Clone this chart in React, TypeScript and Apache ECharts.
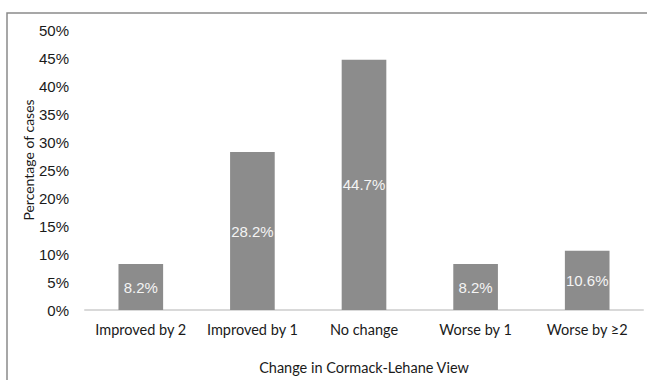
import React, { useEffect, useRef } from "react";
import * as echarts from "echarts";

const categories = ["Improved by 2", "Improved by 1", "No change", "Worse by 1", "Worse by ≥2"];
const values = [8.2, 28.2, 44.7, 8.2, 10.6];
const yTicks = [0, 5, 10, 15, 20, 25, 30, 35, 40, 45, 50];
const yTitle = "Percentage of cases";
const xTitle = "Change in Cormack-Lehane View";

export default function App() {
  const ref = useRef<HTMLDivElement>(null);
  useEffect(() => {
    if (!ref.current) return;
    const chart = echarts.init(ref.current, undefined, { renderer: "svg" });
    chart.setOption({
      animation: false,
      backgroundColor: "#ffffff",
      graphic: [
        {
          type: "rect",
          shape: { x: 7, y: 13, width: 700, height: 400 },
          style: { fill: "none", stroke: "#8a8a8a", lineWidth: 1.5 },
          silent: true,
        },
        {
          type: "text",
          x: 28,
          y: 160,
          rotation: Math.PI / 2,
          style: {
            text: yTitle,
            fill: "#1a1a1a",
            font: "14px Lato",
            align: "center",
            verticalAlign: "middle",
          },
          silent: true,
        },
      ],
      grid: { left: 85, right: 4, top: 30, bottom: 69 },
      xAxis: {
        type: "category",
        data: categories,
        axisLine: { show: true, lineStyle: { color: "#d9d9d9", width: 2 } },
        axisTick: { show: false },
        axisLabel: { color: "#1a1a1a", fontFamily: "Lato", fontSize: 14.5, margin: 12, interval: 0 },
        name: xTitle,
        nameLocation: "middle",
        nameGap: 50,
        nameTextStyle: { color: "#1a1a1a", fontFamily: "Lato", fontSize: 14.5 },
      },
      yAxis: {
        type: "value",
        min: yTicks[0],
        max: yTicks[yTicks.length - 1],
        interval: 5,
        splitLine: { show: false },
        axisLine: { show: false },
        axisTick: { show: false },
        axisLabel: {
          color: "#1a1a1a",
          fontFamily: "Liberation Sans",
          fontSize: 15,
          margin: 16,
          formatter: (v: number) => v + "%",
        },
      },
      series: [
        {
          type: "bar",
          data: values,
          barWidth: "40%",
          itemStyle: { color: "#8c8c8c" },
          label: {
            show: true,
            position: "inside",
            color: "#f4f4f4",
            fontFamily: "Liberation Sans",
            fontSize: 15,
            formatter: (p: any) => p.value.toFixed(1) + "%",
          },
        },
      ],
    });
    return () => chart.dispose();
  }, []);
  return (
    <div
      ref={ref}
      style={{ position: "fixed", left: 0, top: 0, width: 647, height: 380 }}
    />
  );
}
